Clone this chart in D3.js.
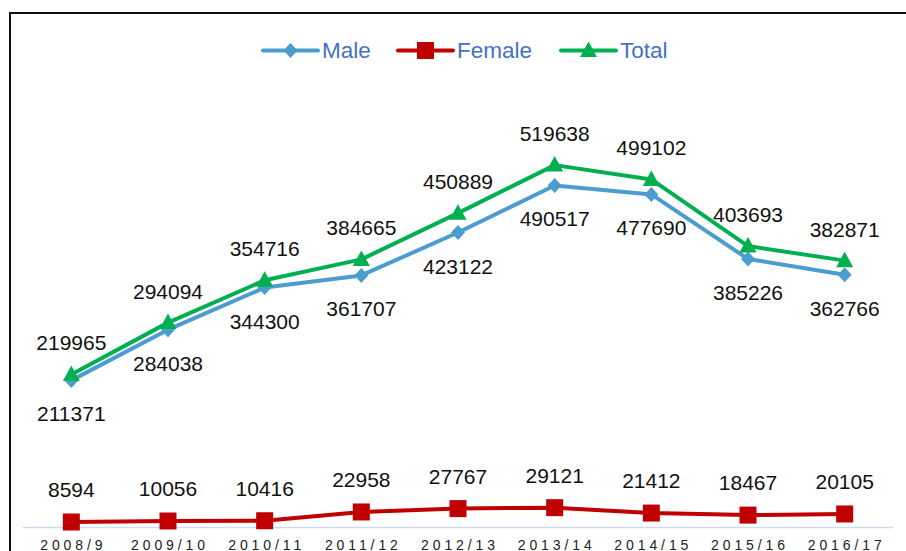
<!DOCTYPE html>
<html>
<head>
<meta charset="utf-8">
<style>
  body { margin: 0; background: #fff; overflow: hidden; }
  svg { display: block; }
  text { font-family: "Liberation Sans", Arial, sans-serif; }
  .lbl { font-size: 21px; fill: #111; text-anchor: middle; }
  .tick { font-size: 14px; fill: #222; letter-spacing: 3.9px; text-anchor: middle; }
  .leg { font-size: 22.5px; fill: #4472c4; }
</style>
</head>
<body>
<script src="https://d3js.org/d3.v7.min.js"></script>
<script>

var years = ["2008/9", "2009/10", "2010/11", "2011/12", "2012/13", "2013/14", "2014/15", "2015/16", "2016/17"];
var male = [211371, 284038, 344300, 361707, 423122, 490517, 477690, 385226, 362766];
var female = [8594, 10056, 10416, 22958, 27767, 29121, 21412, 18467, 20105];
var total = [219965, 294094, 354716, 384665, 450889, 519638, 499102, 403693, 382871];

var width = 906, height = 551;

var svg = d3.select("body").append("svg")
    .attr("width", width)
    .attr("height", height);

// frame (only top and left show)
svg.append("path")
    .attr("d", "M10,551 L10,13 L906,13")
    .attr("fill", "none")
    .attr("stroke", "#111")
    .attr("stroke-width", 2);

var x = d3.scaleBand().domain(years).range([23, 893]);
var y = d3.scaleLinear().domain([0, 600000]).range([528, 109]);

function cx(i) { return x(years[i]) + x.bandwidth() / 2; }

// axis line
svg.append("line")
    .attr("x1", 23).attr("x2", 893)
    .attr("y1", 527.5).attr("y2", 527.5)
    .attr("stroke", "#cfdcf0")
    .attr("stroke-width", 1.6);

// tick labels
svg.selectAll(".tick")
    .data(years)
    .enter()
    .append("text")
    .attr("class", "tick")
    .attr("x", function(d) { return x(d) + x.bandwidth() / 2 + 2; })
    .attr("y", 550)
    .text(function(d) { return d; });

var series = [
  { name: "Male", values: male, color: "#4b9dcf", marker: "diamond", labelDy: 41 },
  { name: "Female", values: female, color: "#c00000", marker: "square", labelDy: -25 },
  { name: "Total", values: total, color: "#00b050", marker: "triangle", labelDy: -24 }
];

function markerPath(type, px, py) {
  if (type === "diamond") {
    return "M" + px + "," + (py - 7.5) + "L" + (px + 7) + "," + py + "L" + px + "," + (py + 7.5) + "L" + (px - 7) + "," + py + "Z";
  } else if (type === "square") {
    return "M" + (px - 8.5) + "," + (py - 8.5) + "h17v17h-17Z";
  } else {
    return "M" + px + "," + (py - 9) + "L" + (px + 8.5) + "," + (py + 6.5) + "L" + (px - 8.5) + "," + (py + 6.5) + "Z";
  }
}

var line = d3.line()
    .x(function(d, i) { return cx(i); })
    .y(function(d) { return y(d); });

series.forEach(function(s) {
  var g = svg.append("g");
  g.append("path")
    .attr("d", line(s.values))
    .attr("fill", "none")
    .attr("stroke", s.color)
    .attr("stroke-width", 4)
    .attr("stroke-linejoin", "round");

  g.selectAll(".mk")
    .data(s.values)
    .enter()
    .append("path")
    .attr("d", function(d, i) { return markerPath(s.marker, cx(i), y(d)); })
    .attr("fill", s.color);
});

// data labels on top of everything
series.forEach(function(s) {
  svg.append("g").selectAll("text")
    .data(s.values)
    .enter()
    .append("text")
    .attr("class", "lbl")
    .attr("x", function(d, i) { return cx(i); })
    .attr("y", function(d) { return y(d) + s.labelDy; })
    .text(function(d) { return d; });
});

// legend
var legendX = [263, 398, 561];
var legend = svg.append("g");
series.forEach(function(s, i) {
  var lx = legendX[i];
  legend.append("line")
    .attr("x1", lx).attr("x2", lx + 55)
    .attr("y1", 50.5).attr("y2", 50.5)
    .attr("stroke", s.color)
    .attr("stroke-width", 4)
    .attr("stroke-linecap", "round");
  legend.append("path")
    .attr("d", markerPath(s.marker, lx + 27.5, 50.5))
    .attr("fill", s.color);
  legend.append("text")
    .attr("class", "leg")
    .attr("x", lx + 59)
    .attr("y", 57.5)
    .text(s.name);
});

</script>
</body>
</html>
